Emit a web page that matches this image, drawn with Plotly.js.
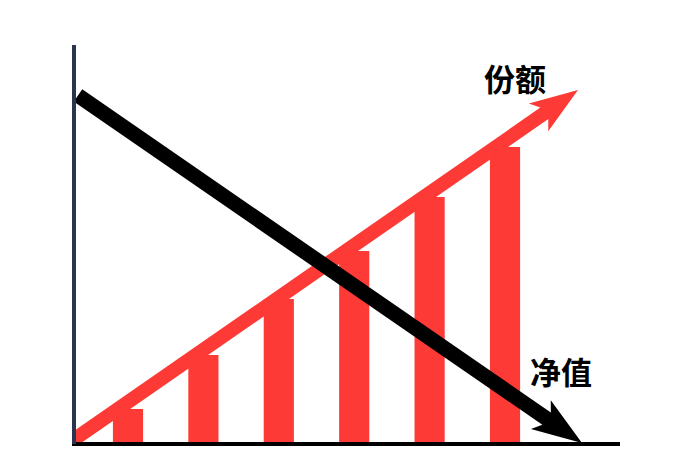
<!DOCTYPE html>
<html>
<head>
<meta charset="utf-8">
<script src="https://cdn.plot.ly/plotly-3.0.1.min.js"></script>
<style>html,body{margin:0;padding:0;background:#fff}#chart{width:680px;height:464px}</style>
</head>
<body>
<div id="chart"></div>
<script>
// ---- data ----
const periods = [1, 2, 3, 4, 5, 6];
const shareValues = [3.5, 8.9, 14.5, 19.3, 24.7, 29.7];
const shareTrendX = [0.35, 6.968];
const shareTrendY = [0.8, 35.4];
const navTrendX = [0.337, 7.021];
const navTrendY = [34.85, 0.1];
const labels = ['份额', '净值'];
const labelX = [6.126, 6.743];
const labelY = [36.65, 7.4];

// ---- layout geometry ----
const W = 680, H = 464;
const M = {l: 74, r: 60, t: 45, b: 20};
const xRange = [0.284, 7.525];
const yRange = [0, 39.9];
const pw = W - M.l - M.r, ph = H - M.t - M.b;
const sx = pw / (xRange[1] - xRange[0]);
const sy = ph / (yRange[1] - yRange[0]);
const toPx = (x, y) => [(x - xRange[0]) * sx, -(y - yRange[0]) * sy];
const toData = (px, py) => [px / sx + xRange[0], -py / sy + yRange[0]];

// arrow outline built from the trend's start/end through the axis scales
function arrowPolygon(xs, ys, shaftW, headL, headHalf, barb, roundStart) {
  const [x0, y0] = toPx(xs[0], ys[0]);
  const [x1, y1] = toPx(xs[1], ys[1]);
  const len = Math.hypot(x1 - x0, y1 - y0);
  const ux = (x1 - x0) / len, uy = (y1 - y0) / len;
  const nx = -uy, ny = ux;
  const h = shaftW / 2;
  const P = (along, side) => [x0 + ux * along + nx * side, y0 + uy * along + ny * side];
  const pts = [];
  if (roundStart) {
    for (let i = 0; i <= 16; i++) {
      const a = Math.PI / 2 + Math.PI * i / 16;
      pts.push(P(h * Math.cos(a), h * Math.sin(a)));
    }
  } else {
    pts.push(P(0, h));
    pts.push(P(0, -h));
  }
  const notch = len - headL + barb;
  pts.push(P(notch, -h));
  pts.push(P(len - headL, -headHalf));
  pts.push(P(len, 0));
  pts.push(P(len - headL, headHalf));
  pts.push(P(notch, h));
  pts.push(pts[0]);
  const d = pts.map(p => toData(p[0], p[1]));
  return {x: d.map(p => p[0]), y: d.map(p => p[1])};
}

const red = '#fd3a35';
const redArrow = arrowPolygon(shareTrendX, shareTrendY, 14, 48, 17, 7, true);
const blackArrow = arrowPolygon(navTrendX, navTrendY, 15, 50, 17.5, 7, false);

const traces = [
  {type: 'bar', x: periods, y: shareValues, width: 0.4,
   marker: {color: red, line: {width: 0}}, hoverinfo: 'skip'},
  {type: 'scatter', mode: 'lines', x: redArrow.x, y: redArrow.y, fill: 'toself',
   fillcolor: red, line: {width: 0, color: red}, hoverinfo: 'skip'},
  {type: 'scatter', mode: 'lines', x: blackArrow.x, y: blackArrow.y, fill: 'toself',
   fillcolor: '#000', line: {width: 0, color: '#000'}, hoverinfo: 'skip'}
];

const layout = {
  width: W, height: H,
  margin: M,
  paper_bgcolor: '#fff', plot_bgcolor: '#fff',
  showlegend: false,
  xaxis: {range: xRange, visible: false, fixedrange: true},
  yaxis: {range: yRange, visible: false, fixedrange: true},
  shapes: [
    {type: 'line', xref: 'paper', yref: 'paper', x0: -2 / pw, x1: 1, y0: 0, y1: 0,
     line: {color: '#000', width: 4}},
    {type: 'line', xref: 'paper', yref: 'paper', x0: 0, x1: 0, y0: 0, y1: 1,
     line: {color: '#2c3550', width: 4}}
  ],
  annotations: labels.map((t, i) => ({
    text: t, x: labelX[i], y: labelY[i], xref: 'x', yref: 'y',
    showarrow: false, xanchor: 'center', yanchor: 'middle',
    font: {family: 'Noto Sans CJK SC', size: 31, color: '#000', weight: 'bold'}
  }))
};

Plotly.newPlot('chart', traces, layout, {staticPlot: true, displayModeBar: false});
</script>
</body>
</html>
